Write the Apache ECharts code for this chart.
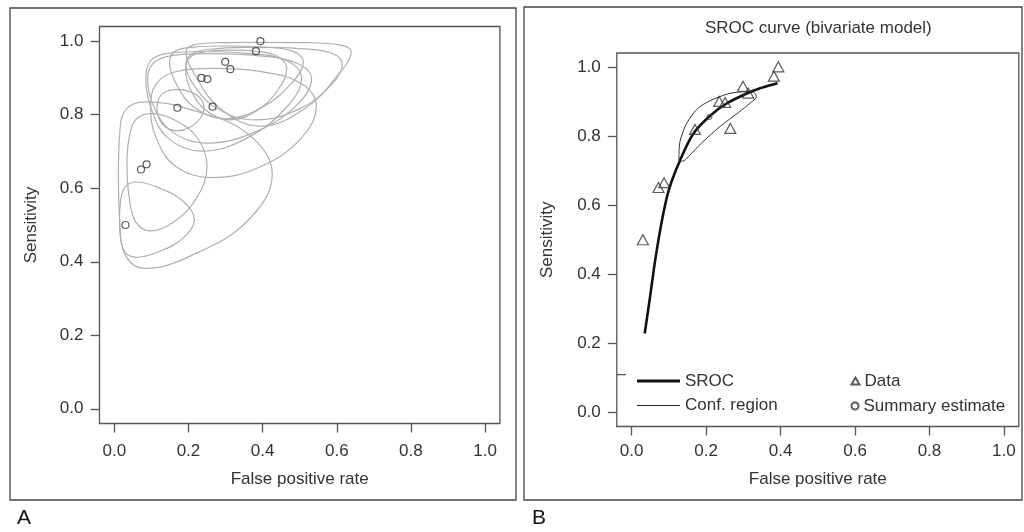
<!DOCTYPE html>
<html>
<head>
<meta charset="utf-8">
<script src="https://cdn.jsdelivr.net/npm/echarts@6/dist/echarts.min.js"></script>
<style>html,body{margin:0;padding:0;background:#fff}#c{width:1024px;height:532px}</style>
</head>
<body>
<div id="c"></div>
<script>
// ---- data ----
const axisTicks = [0, 0.2, 0.4, 0.6, 0.8, 1.0];
const fpr  = [0.394, 0.382, 0.299, 0.313, 0.235, 0.251, 0.170, 0.265, 0.072, 0.087, 0.030];
const sens = [1.000, 0.973, 0.944, 0.924, 0.900, 0.897, 0.819, 0.822, 0.651, 0.665, 0.500];

// per-study confidence regions (panel A)
const region1  = [[0.394,0.997],[0.283,0.996],[0.215,0.990],[0.193,0.971],[0.215,0.913],[0.283,0.819],[0.394,0.769],[0.517,0.819],[0.607,0.913],[0.639,0.971],[0.607,0.990],[0.517,0.996],[0.394,0.997]];
const region2  = [[0.382,0.984],[0.278,0.980],[0.214,0.968],[0.193,0.937],[0.214,0.881],[0.278,0.816],[0.382,0.786],[0.499,0.816],[0.585,0.881],[0.615,0.937],[0.585,0.968],[0.499,0.980],[0.382,0.984]];
const region3  = [[0.299,0.987],[0.215,0.984],[0.165,0.973],[0.149,0.944],[0.165,0.888],[0.215,0.821],[0.299,0.789],[0.400,0.821],[0.480,0.888],[0.510,0.944],[0.480,0.973],[0.400,0.984],[0.299,0.987]];
const region4  = [[0.312,0.976],[0.247,0.972],[0.205,0.957],[0.192,0.924],[0.205,0.870],[0.247,0.812],[0.312,0.786],[0.386,0.812],[0.443,0.870],[0.465,0.924],[0.443,0.957],[0.386,0.972],[0.312,0.976]];
const region5  = [[0.235,0.972],[0.144,0.967],[0.098,0.947],[0.085,0.900],[0.098,0.821],[0.144,0.737],[0.235,0.701],[0.359,0.737],[0.465,0.821],[0.505,0.900],[0.465,0.947],[0.359,0.967],[0.235,0.972]];
const region6  = [[0.252,0.966],[0.155,0.961],[0.105,0.940],[0.090,0.897],[0.105,0.826],[0.155,0.754],[0.252,0.723],[0.382,0.754],[0.492,0.826],[0.532,0.897],[0.492,0.940],[0.382,0.961],[0.252,0.966]];
const region7  = [[0.169,0.869],[0.140,0.863],[0.121,0.846],[0.115,0.819],[0.121,0.789],[0.140,0.765],[0.169,0.756],[0.203,0.765],[0.231,0.789],[0.242,0.819],[0.231,0.846],[0.203,0.863],[0.169,0.869]];
const region8  = [[0.265,0.926],[0.165,0.917],[0.113,0.884],[0.098,0.822],[0.113,0.737],[0.165,0.660],[0.265,0.629],[0.397,0.660],[0.505,0.737],[0.545,0.822],[0.505,0.884],[0.397,0.917],[0.265,0.926]];
const region9  = [[0.011,0.639],[0.0145,0.511],[0.031,0.416],[0.083,0.382],[0.206,0.416],[0.359,0.511],[0.426,0.639],[0.359,0.749],[0.206,0.814],[0.083,0.835],[0.031,0.814],[0.0145,0.749],[0.011,0.639]];
const region10 = [[0.034,0.661],[0.040,0.575],[0.058,0.508],[0.098,0.484],[0.160,0.508],[0.223,0.575],[0.250,0.661],[0.223,0.738],[0.160,0.787],[0.098,0.803],[0.058,0.787],[0.040,0.738],[0.034,0.661]];
const region11 = [[0.014,0.515],[0.017,0.463],[0.029,0.426],[0.059,0.412],[0.116,0.426],[0.184,0.463],[0.216,0.515],[0.184,0.566],[0.116,0.603],[0.059,0.617],[0.029,0.603],[0.017,0.566],[0.014,0.515]];

// panel B
const srocCurve = [[0.035,0.229],[0.050,0.340],[0.064,0.447],[0.083,0.565],[0.100,0.645],[0.130,0.730],[0.165,0.806],[0.210,0.858],[0.255,0.894],[0.309,0.923],[0.345,0.938],[0.392,0.953]];
const confRegion = [[0.127,0.745],[0.130,0.785],[0.147,0.835],[0.180,0.882],[0.232,0.912],[0.285,0.927],[0.325,0.928],[0.335,0.914],[0.318,0.895],[0.287,0.868],[0.238,0.828],[0.188,0.780],[0.152,0.740],[0.137,0.727],[0.127,0.733],[0.127,0.745]];
const summaryEstimate = [[0.209,0.855]];
const strayMark = [[-0.04,0.11],[-0.015,0.11]];

// ---- chart ----
const FONT = "'Liberation Sans', Arial, sans-serif";
const TXT = '#333';
const regions = [region1,region2,region3,region4,region5,region6,region7,region8,region9,region10,region11];
const points = fpr.map((x, i) => [x, sens[i]]);

function xAxisCfg(gi, gap, margin) {
  return {
    gridIndex: gi, type: 'value', min: -0.04, max: 1.04, position: 'bottom',
    axisLine: {show: false, onZero: false}, splitLine: {show: false},
    axisTick: {show: true, inside: false, length: 9, lineStyle: {color: '#555', width: 1.3}, customValues: axisTicks},
    axisLabel: {customValues: axisTicks, formatter: v => v.toFixed(1), fontSize: 17, color: TXT, margin: margin, fontFamily: FONT},
    name: 'False positive rate', nameLocation: 'middle', nameGap: gap,
    nameTextStyle: {fontSize: 17, color: TXT, fontFamily: FONT}
  };
}
function yAxisCfg(gi, gap) {
  return {
    gridIndex: gi, type: 'value', min: -0.04, max: 1.04, position: 'left',
    axisLine: {show: false, onZero: false}, splitLine: {show: false},
    axisTick: {show: true, inside: false, length: 9, lineStyle: {color: '#555', width: 1.3}, customValues: axisTicks},
    axisLabel: {customValues: axisTicks, formatter: v => v.toFixed(1), fontSize: 17, color: TXT, margin: 16, fontFamily: FONT},
    name: 'Sensitivity', nameLocation: 'middle', nameGap: gap, nameRotate: 90,
    nameTextStyle: {fontSize: 17, color: TXT, fontFamily: FONT}
  };
}

const series = [];
regions.forEach((r) => series.push({
  type: 'line', xAxisIndex: 0, yAxisIndex: 0, data: r, smooth: 0.4,
  symbol: 'none', silent: true, z: 2,
  lineStyle: {color: '#b0b0b0', width: 1.2}
}));
series.push({
  type: 'scatter', xAxisIndex: 0, yAxisIndex: 0, data: points, symbol: 'circle', symbolSize: 7, z: 5,
  itemStyle: {color: 'none', borderColor: '#333', borderWidth: 1.2}
});
series.push({
  name: 'SROC', type: 'line', xAxisIndex: 1, yAxisIndex: 1, data: srocCurve, smooth: 0.3,
  symbol: 'none', z: 4, lineStyle: {color: '#111', width: 2.6}, itemStyle: {color: '#111'}
});
series.push({
  name: 'Conf. region', type: 'line', xAxisIndex: 1, yAxisIndex: 1, data: confRegion, smooth: 0.3,
  symbol: 'none', z: 3, lineStyle: {color: '#333', width: 1}, itemStyle: {color: '#222'}
});
series.push({
  name: 'Data', type: 'scatter', xAxisIndex: 1, yAxisIndex: 1, data: points, symbol: 'triangle', symbolSize: [11, 10], z: 5,
  itemStyle: {color: 'none', borderColor: '#333', borderWidth: 1.2}
});
series.push({
  name: 'Summary estimate', type: 'scatter', xAxisIndex: 1, yAxisIndex: 1, data: summaryEstimate, symbol: 'circle', symbolSize: 5, z: 6,
  itemStyle: {color: 'none', borderColor: '#333', borderWidth: 1}
});
series.push({
  type: 'line', xAxisIndex: 1, yAxisIndex: 1, data: strayMark, symbol: 'none', silent: true,
  lineStyle: {color: '#555', width: 1.2}
});

const legendText = {fontSize: 17, color: TXT, fontFamily: FONT, lineHeight: 18};
function legendItem(name, icon, left, top, w, h) {
  return {data: [{name: name, icon: icon}], left: left, top: top, padding: 0, itemWidth: w, itemHeight: h,
          textStyle: legendText, selectedMode: false};
}
const option = {
  animation: false,
  backgroundColor: '#fff',
  title: [
    {text: 'SROC curve (bivariate model)', left: 705, top: 20, padding: 0,
     textStyle: {fontSize: 17, fontWeight: 'normal', color: TXT, fontFamily: FONT}},
    {text: 'A', left: 17, top: 508, padding: 0, textStyle: {fontSize: 21, fontWeight: 'normal', color: '#111', fontFamily: FONT}},
    {text: 'B', left: 532, top: 508, padding: 0, textStyle: {fontSize: 21, fontWeight: 'normal', color: '#111', fontFamily: FONT}}
  ],
  legend: [
    legendItem('SROC', 'rect', 637, 372, 43, 3),
    legendItem('Conf. region', 'rect', 637, 396.5, 43, 1),
    legendItem('Data', 'triangle', 849, 372, 8, 7),
    legendItem('Summary estimate', 'circle', 849, 397, 7, 7)
  ],
  grid: [
    {left: 99.5, top: 26.5, width: 400.4, height: 397, show: true, borderColor: '#555', borderWidth: 1.3, containLabel: false},
    {left: 616.8, top: 53, width: 402, height: 373.5, show: true, borderColor: '#555', borderWidth: 1.3, containLabel: false}
  ],
  xAxis: [xAxisCfg(0, 47, 19), xAxisCfg(1, 44, 16)],
  yAxis: [yAxisCfg(0, 60), yAxisCfg(1, 60.5)],
  graphic: [
    {type: 'rect', silent: true, z: -1, shape: {x: 10, y: 8, width: 506, height: 492}, style: {fill: 'none', stroke: '#444', lineWidth: 1.3}},
    {type: 'rect', silent: true, z: -1, shape: {x: 524, y: 7, width: 498, height: 493}, style: {fill: 'none', stroke: '#444', lineWidth: 1.3}}
  ],
  series: series
};
const chart = echarts.init(document.getElementById('c'), null, {renderer: 'canvas'});
chart.setOption(option);
</script>
</body>
</html>
